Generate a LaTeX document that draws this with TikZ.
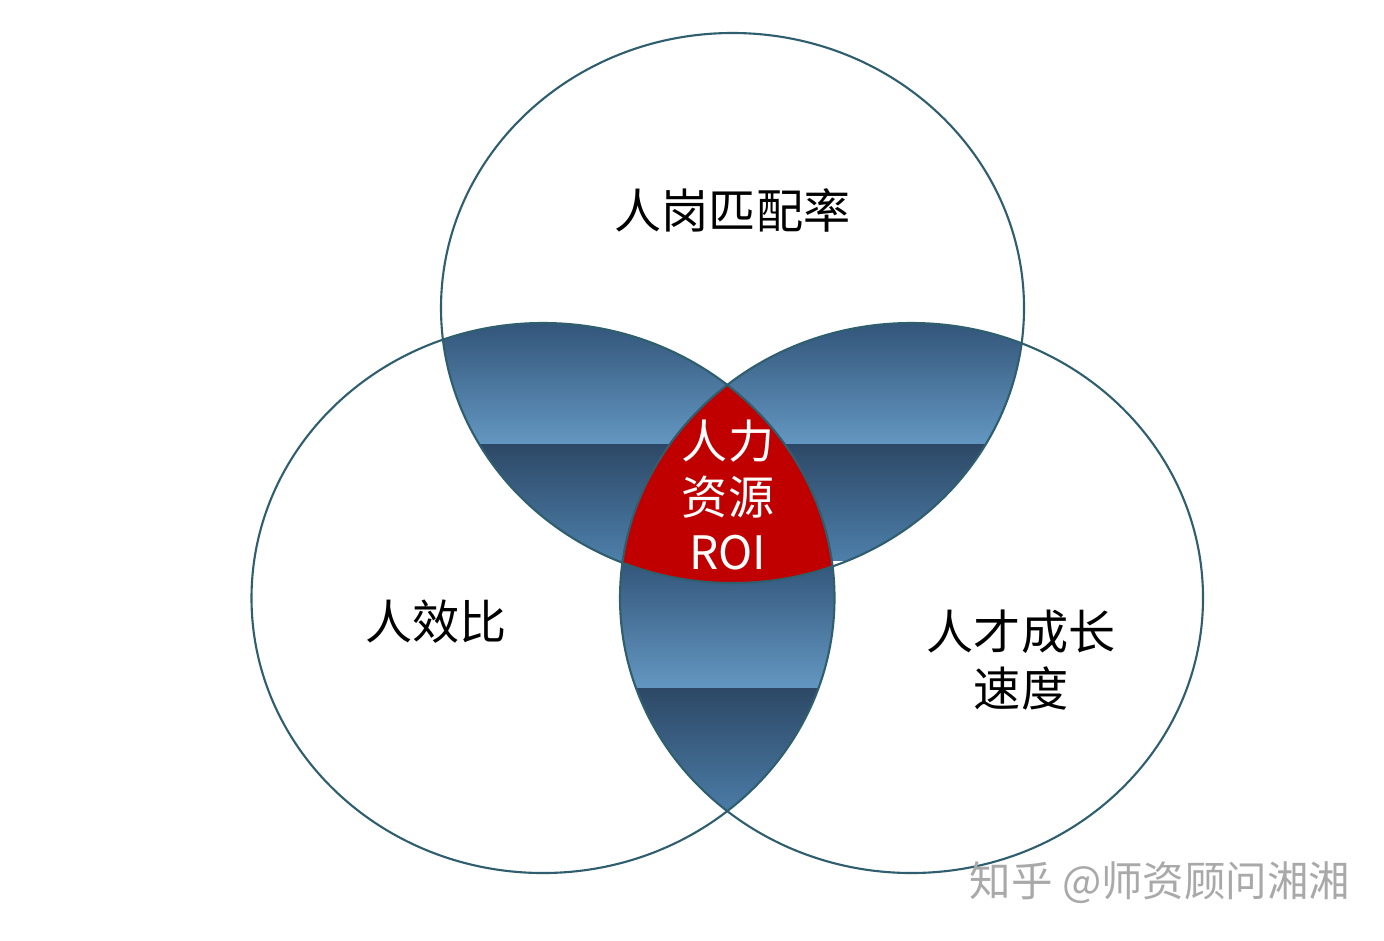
\documentclass[tikz,border=0pt]{standalone}
\usepackage{fontspec}
\setmainfont{Noto Sans CJK SC}
\definecolor{rimteal}{HTML}{2F5E6E}
\definecolor{lensdark}{HTML}{33557A}
\definecolor{lenslight}{HTML}{6397C1}
\definecolor{lensdeep}{HTML}{2D4866}
\definecolor{lensmid}{HTML}{4D7FAA}
\definecolor{roired}{HTML}{C00000}
\definecolor{markgray}{HTML}{A9A9A9}
\tikzset{
  rim/.style={draw=rimteal,line width=0.6pt},
  bandup/.style={top color=lensdark,bottom color=lenslight},
  banddown/.style={top color=lensdeep,bottom color=lensmid},
  lbl/.style={font=\fontsize{13.4}{16}\selectfont,align=center,text=black},
}
\begin{document}
\begin{tikzpicture}
  \useasboundingbox (0,0) rectangle (13.84,9.40);
  \fill[white] (0,0) rectangle (13.84,9.40);
  \coordinate (ctop) at (7.325,6.32);
  \coordinate (cleft) at (5.43,3.42);
  \coordinate (cright) at (9.115,3.42);
  \begin{scope}
    \clip (ctop) ellipse (2.915 and 2.75);
    \clip (cleft) ellipse (2.915 and 2.75);
    \shade[bandup] (4.3,4.96) rectangle (7.4,6.17);
    \shade[banddown] (4.3,3.80) rectangle (7.4,4.96);
  \end{scope}
  \begin{scope}
    \clip (ctop) ellipse (2.915 and 2.75);
    \clip (cright) ellipse (2.915 and 2.75);
    \shade[bandup] (7.2,4.96) rectangle (10.4,6.17);
    \shade[banddown] (7.2,3.80) rectangle (10.4,4.96);
  \end{scope}
  \begin{scope}
    \clip (cleft) ellipse (2.915 and 2.75);
    \clip (cright) ellipse (2.915 and 2.75);
    \shade[bandup] (6.0,2.52) rectangle (8.5,3.80);
    \shade[banddown] (6.0,1.20) rectangle (8.5,2.52);
  \end{scope}
  \begin{scope}
    \clip (ctop) ellipse (2.915 and 2.75);
    \clip (cleft) ellipse (2.915 and 2.75);
    \clip (cright) ellipse (2.915 and 2.75);
    \fill[roired] (5.5,3.3) rectangle (9.0,5.8);
  \end{scope}
  \draw[rim] (ctop) ellipse (2.915 and 2.75);
  \draw[rim] (cleft) ellipse (2.915 and 2.75);
  \draw[rim] (cright) ellipse (2.915 and 2.75);
  \node[lbl] (match) at (7.325,7.30) {人岗匹配率};
  \node[lbl] (effic) at (4.36,3.18) {人效比};
  \node[lbl] (growth) at (10.21,2.80) {人才成长\\速度};
  \node[lbl,text=white,font=\fontsize{13.1}{15.7}\selectfont] (roi) at (7.28,4.45) {人力\\资源\\ROI};
  \node[font=\fontsize{11.8}{14}\selectfont,text=markgray] (mark) at (11.60,0.57) {知乎 @师资顾问湘湘};
\end{tikzpicture}
\end{document}
